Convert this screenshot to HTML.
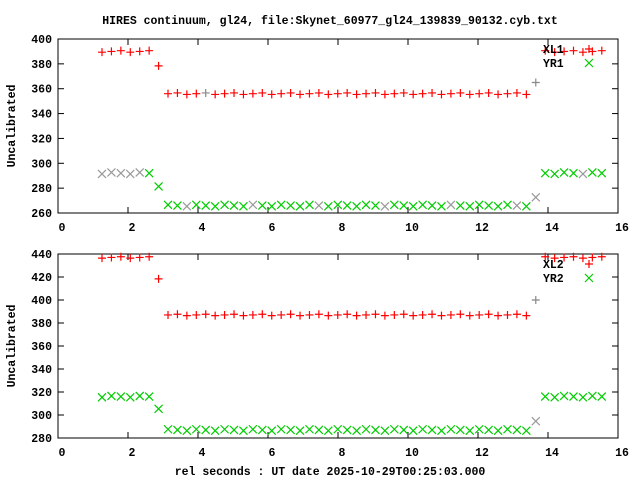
<!DOCTYPE html>
<html><head><meta charset="utf-8"><style>
html,body{margin:0;padding:0;background:#fff}
svg{display:block}
text{font-family:"Liberation Mono",monospace;font-weight:bold;font-size:11.5px;fill:#000}
</style></head><body>
<svg id="s" width="640" height="480" xmlns="http://www.w3.org/2000/svg">
<text x="330" y="24" text-anchor="middle">HIRES continuum, gl24, file:Skynet_60977_gl24_139839_90132.cyb.txt</text>
<text x="330" y="475" text-anchor="middle">rel seconds : UT date 2025-10-29T00:25:03.000</text>
<text transform="translate(15,126) rotate(-90)" text-anchor="middle">Uncalibrated</text>
<text transform="translate(15,346) rotate(-90)" text-anchor="middle">Uncalibrated</text>
<g id="g"></g>
</svg>
<script>
var g=document.getElementById('g'),h='';
function X(v){return 58+v*35;}
function plot(top,bot,ymin,ymax,step,vals,leg){
  var ys=function(v){return bot-(v-ymin)*(bot-top)/(ymax-ymin);};
  h+='<rect x="58" y="'+top+'" width="560" height="'+(bot-top)+'" fill="none" stroke="#000" stroke-width="1"/>';
  for(var t=0;t<=16;t+=2){var x=X(t);
    h+='<line x1="'+x+'" y1="'+bot+'" x2="'+x+'" y2="'+(bot-6)+'" stroke="#000"/><line x1="'+x+'" y1="'+top+'" x2="'+x+'" y2="'+(top+6)+'" stroke="#000"/>';
    h+='<text x="'+(x+4)+'" y="'+(bot+18)+'" text-anchor="middle">'+t+'</text>';}
  for(var v=ymin;v<=ymax;v+=step){var y=ys(v);
    h+='<line x1="58" y1="'+y+'" x2="64" y2="'+y+'" stroke="#000"/><line x1="618" y1="'+y+'" x2="612" y2="'+y+'" stroke="#000"/>';
    h+='<text x="52" y="'+(y+4)+'" text-anchor="end">'+v+'</text>';}
  for(var i=0;i<54;i++){var px=102+9.43*i,r,gn,grey=false,gg=false;
    if(i<6){r=vals[0];gn=vals[4];}else if(i==6){r=vals[1];gn=vals[5];}
    else if(i<=45){r=vals[2];gn=vals[6];}else if(i==46){r=vals[3];gn=vals[7];grey=true;gg=true;}
    else{r=vals[0];gn=vals[4];}
    r+=((i*7)%3-1)*0.6; gn+=((i*5)%3-1)*0.6;
    if(leg==1&&(i==0||i==1||i==3||i==4||i%7==2))gg=true;
    if(leg==1&&i==11)grey=true;
    var y=ys(r),c=grey?'#888':'#f00';
    h+='<path d="M'+(px-4)+' '+y+'h8M'+px+' '+(y-4)+'v8" stroke="'+c+'" stroke-width="1.2" fill="none"/>';
    y=ys(gn);c=gg?'#999':'#0c0';
    h+='<path d="M'+(px-4)+' '+(y-4)+'l8 8M'+(px-4)+' '+(y+4)+'l8 -8" stroke="'+c+'" stroke-width="1.2" fill="none"/>';}
  h+='<text x="543" y="'+(top+14)+'">XL'+leg+'</text><text x="543" y="'+(top+28)+'">YR'+leg+'</text>';
  h+='<path d="M'+585+' '+(top+10)+'h8M589 '+(top+6)+'v8" stroke="#f00" stroke-width="1.2"/>';
  h+='<path d="M585 '+(top+20)+'l8 8M585 '+(top+28)+'l8 -8" stroke="#0c0" stroke-width="1.2"/>';
}
plot(39,213,260,400,20,[390,379,356,365,292,282,266,272],1);
plot(254,438,280,440,20,[437,419,387,400,316,306,287,294],2);
g.innerHTML=h;
</script>
</body></html>
